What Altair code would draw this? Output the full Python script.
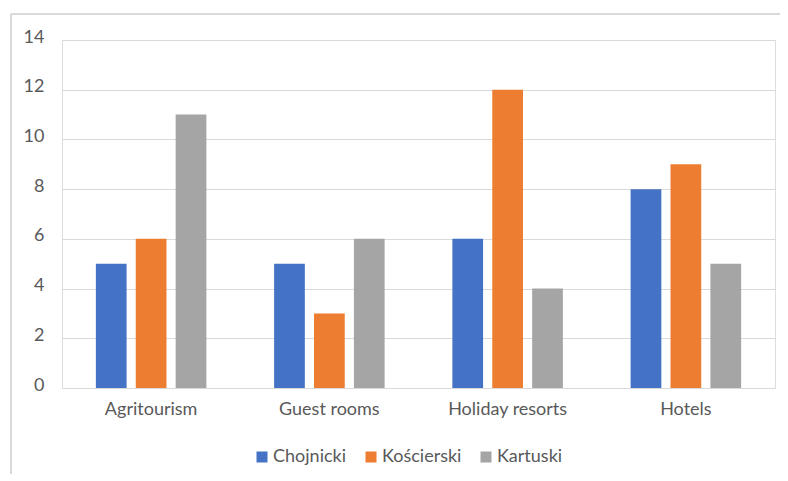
import altair as alt
import pandas as pd

categories = ["Agritourism", "Guest rooms", "Holiday resorts", "Hotels"]
series = ["Chojnicki", "Kościerski", "Kartuski"]
chojnicki = [5, 5, 6, 8]
koscierski = [6, 3, 12, 9]
kartuski = [11, 6, 4, 5]
colors = ["#4472C4", "#ED7D31", "#A5A5A5"]

rows = []
for name, vals in zip(series, [chojnicki, koscierski, kartuski]):
    for cat, v in zip(categories, vals):
        rows.append({"category": cat, "series": name, "value": v})
df = pd.DataFrame(rows)

FONT = "Lato"
TEXT = "#595959"
GRID = "#D9D9D9"

W, H = 713, 348
PAD = {"left": 62, "top": 40, "right": 5, "bottom": 86}

bars = alt.Chart(df).mark_bar().encode(
    x=alt.X("category:N", sort=categories, title=None,
            scale=alt.Scale(paddingInner=0.38, paddingOuter=0.19),
            axis=alt.Axis(labelAngle=0, labelFont=FONT, labelFontSize=18,
                          labelColor=TEXT, labelPadding=12, ticks=False,
                          domainColor=GRID, domainWidth=1)),
    xOffset=alt.XOffset("series:N", sort=series,
                        scale=alt.Scale(paddingInner=0.23, paddingOuter=0)),
    y=alt.Y("value:Q", title=None,
            scale=alt.Scale(domain=[0, 14]),
            axis=alt.Axis(values=[0, 2, 4, 6, 8, 10, 12, 14], labelFont=FONT,
                          labelFontSize=18, labelColor=TEXT, labelPadding=18,
                          labelOffset=-3,
                          ticks=False, domain=False, gridColor=GRID,
                          gridWidth=1)),
    color=alt.Color("series:N", sort=series,
                    scale=alt.Scale(domain=series, range=colors),
                    legend=alt.Legend(title=None, orient="none",
                                      direction="horizontal",
                                      legendX=191, legendY=408,
                                      symbolType="square", symbolSize=121,
                                      symbolStrokeWidth=0,
                                      labelFont=FONT, labelFontSize=18,
                                      labelColor=TEXT, labelOffset=2,
                                      columnPadding=15)),
)

# outer chart-area border: top and left edges, kept inside the canvas
frame_top = alt.Chart(df).mark_rule(stroke=GRID, strokeWidth=1.5).encode(
    x=alt.value(-51), x2=alt.value(W + PAD["right"]), y=alt.value(-26)
)
frame_left = alt.Chart(df).mark_rule(stroke=GRID, strokeWidth=1.5).encode(
    x=alt.value(-51), y=alt.value(-26), y2=alt.value(H + PAD["bottom"])
)

chart = alt.layer(frame_top, frame_left, bars).properties(
    width=W, height=H,
    autosize=alt.AutoSizeParams(type="none"),
    padding=PAD,
).configure_view(stroke="transparent", strokeWidth=0).configure(background="white")

chart.save("out.html", embed_options={"renderer": "svg", "actions": False})
